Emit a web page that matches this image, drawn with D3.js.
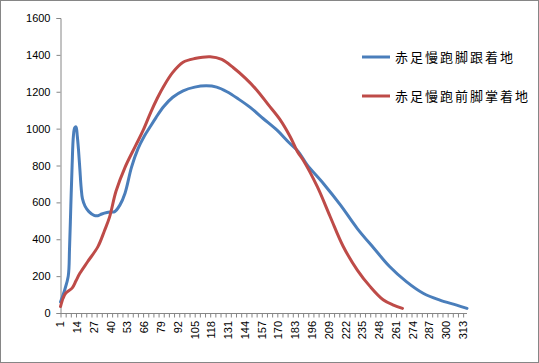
<!DOCTYPE html>
<html>
<head>
<meta charset="utf-8">
<script src="https://cdn.jsdelivr.net/npm/d3@7/dist/d3.min.js"></script>
<style>
  body { margin: 0; background: #fff; }
  svg { display: block; }
  .tick-label { font-family: "Liberation Sans", Arial, sans-serif; font-size: 11px; fill: #000; }
  .legend-text { font-family: "Noto Sans CJK SC", sans-serif; font-size: 13px; letter-spacing: 2px; fill: #000; }
</style>
</head>
<body>
<svg id="chart" width="539" height="363"></svg>
<script>
    // heel strike series (category index, value)
    var heelX = [1, 4, 7, 8, 9, 10, 11, 12, 13, 14, 15, 16, 17, 18, 20, 23, 27, 30, 33, 37, 40, 43, 47, 51, 56, 61, 66, 70, 75, 81, 88, 96, 105, 114, 122, 130, 139, 148, 158, 169, 178, 185, 192, 205, 218, 231, 244, 256, 269, 282, 295, 308, 316];
    var heelY = [60, 120, 200, 350, 580, 800, 960, 1005, 1010, 960, 880, 780, 680, 620, 580, 550, 530, 528, 537, 545, 548, 550, 585, 650, 790, 890, 960, 1005, 1060, 1120, 1170, 1205, 1225, 1232, 1225, 1200, 1160, 1115, 1055, 990, 925, 878, 805, 700, 585, 458, 350, 252, 170, 107, 70, 43, 25];

    // forefoot strike series
    var foreX = [1, 3, 5, 10, 13, 16, 22, 30, 35, 39, 44, 51, 59, 65, 71, 76, 81, 88, 96, 105, 117, 126, 135, 144, 153, 162, 171, 179, 185, 189, 200, 210, 220, 231, 241, 251, 259, 266];
    var foreY = [35, 80, 107, 135, 175, 215, 278, 360, 445, 520, 660, 790, 905, 990, 1090, 1165, 1230, 1305, 1360, 1380, 1390, 1375, 1330, 1275, 1210, 1130, 1050, 956, 870, 830, 685, 522, 362, 233, 143, 72, 43, 25];

    var seriesNames = ["赤足慢跑脚跟着地", "赤足慢跑前脚掌着地"];
    var seriesColors = ["#4A7EBB", "#BE4B48"];

    var yTicks = [0, 200, 400, 600, 800, 1000, 1200, 1400, 1600];
    var xLabels = d3.range(1, 314, 13);   // 1, 14, 27 ... 313
    var nCats = 316;

    var svg = d3.select("#chart");

    svg.append("rect")
      .attr("x", 0.5).attr("y", 0.5)
      .attr("width", 538).attr("height", 362)
      .attr("fill", "#fff")
      .attr("stroke", "#868686");

    var x = d3.scaleLinear().domain([1, nCats]).range([60.5, 467]);
    var y = d3.scaleLinear().domain([0, 1600]).range([313, 18]);

    // y axis
    var yAxis = svg.append("g")
      .attr("transform", "translate(60.5,0)")
      .call(d3.axisLeft(y).tickValues(yTicks).tickFormat(d3.format("d")).tickSize(4).tickPadding(6));
    yAxis.select(".domain").attr("stroke", "#868686");
    yAxis.selectAll(".tick line").attr("stroke", "#868686");
    yAxis.selectAll(".tick text").attr("class", "tick-label").attr("font-family", null).attr("font-size", null);

    // x axis
    var xAxis = svg.append("g")
      .attr("transform", "translate(0,313.5)")
      .call(d3.axisBottom(x).tickValues(d3.range(1, nCats + 1, 4)).tickSize(4).tickFormat(""));
    xAxis.select(".domain").attr("stroke", "#868686").attr("d", "M60.5,0H467");
    xAxis.selectAll(".tick line").attr("stroke", "#868686");

    svg.append("g").selectAll("text")
      .data(xLabels)
      .enter().append("text")
      .attr("class", "tick-label")
      .attr("transform", function(d) { return "translate(" + x(d) + ",321) rotate(-90)"; })
      .attr("text-anchor", "end")
      .attr("dy", "0.35em")
      .text(function(d) { return d; });

    var line = d3.line()
      .x(function(d) { return x(d[0]); })
      .y(function(d) { return y(d[1]); })
      .curve(d3.curveCatmullRom.alpha(0.5));

    var series = [d3.zip(heelX, heelY), d3.zip(foreX, foreY)];

    series.forEach(function(s, i) {
      svg.append("path")
        .datum(s)
        .attr("fill", "none")
        .attr("stroke", seriesColors[i])
        .attr("stroke-width", 3)
        .attr("stroke-linejoin", "round")
        .attr("stroke-linecap", "round")
        .attr("d", line);
    });

    // legend
    var legend = svg.append("g");
    seriesNames.forEach(function(name, i) {
      var ly = 57 + i * 39;
      legend.append("line")
        .attr("x1", 362).attr("x2", 390)
        .attr("y1", ly).attr("y2", ly)
        .attr("stroke", seriesColors[i])
        .attr("stroke-width", 3);
      legend.append("text")
        .attr("class", "legend-text")
        .attr("x", 395).attr("y", ly)
        .attr("dy", "0.35em")
        .text(name);
    });
</script>
</body>
</html>
